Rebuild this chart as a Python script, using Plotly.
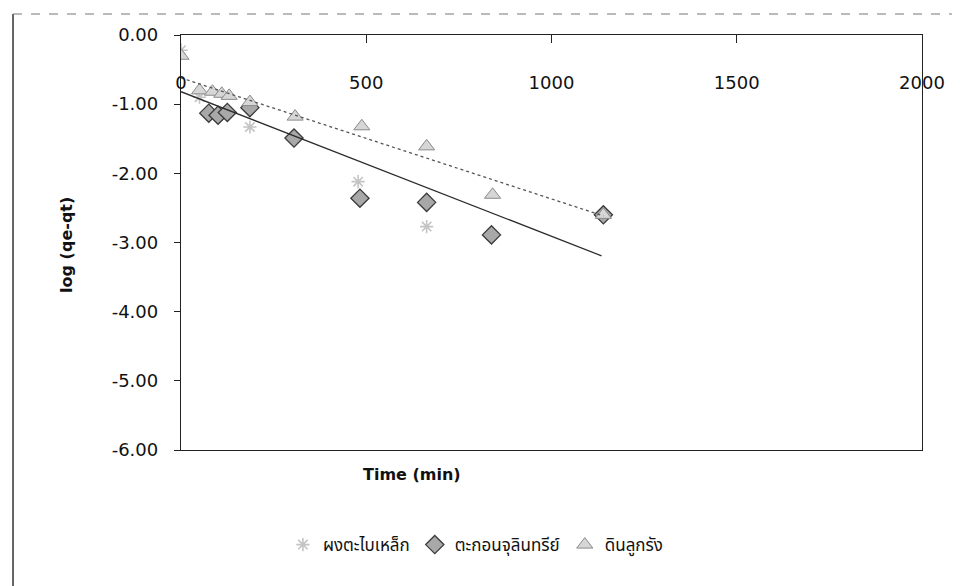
import plotly.graph_objects as go

# ---- data ----
series_names = ["ผงตะไบเหล็ก", "ตะกอนจุลินทรีย์", "ดินลูกรัง"]

iron_x = [0, 50, 186, 478, 663]
iron_y = [-0.22, -0.90, -1.33, -2.12, -2.77]

sludge_x = [75, 100, 125, 186, 305, 483, 663, 838, 1140]
sludge_y = [-1.13, -1.16, -1.12, -1.05, -1.49, -2.36, -2.42, -2.89, -2.60]

laterite_x = [0, 50, 85, 110, 130, 186, 308, 488, 663, 841, 1140]
laterite_y = [-0.30, -0.80, -0.82, -0.85, -0.88, -0.97, -1.18, -1.32, -1.61, -2.31, -2.60]

# linear trend lines: [slope, intercept, x_end]
sludge_trend = [-0.00209, -0.82, 1135]
laterite_trend = [-0.00175, -0.62, 1140]

x_ticks = [0, 500, 1000, 1500, 2000]
y_ticks = [0, -1, -2, -3, -4, -5, -6]

FONT = "DejaVu Sans"
THAI = "Noto Sans Thai, Loma, Garuda, Tahoma, sans-serif"

fig = go.Figure()

fig.add_trace(go.Scatter(
    x=iron_x, y=iron_y, mode="markers", name=series_names[0],
    marker=dict(symbol="asterisk-open", size=11, color="#c4c4c4",
                line=dict(color="#bdbdbd", width=1.6)),
))
fig.add_trace(go.Scatter(
    x=sludge_x, y=sludge_y, mode="markers", name=series_names[1],
    marker=dict(symbol="diamond", size=14, color="#a8a8a8",
                line=dict(color="#3a3a3a", width=1.3)),
))
fig.add_trace(go.Scatter(
    x=laterite_x, y=laterite_y, mode="markers", name=series_names[2],
    marker=dict(symbol="triangle-up", size=14, color="#d6d6d6",
                line=dict(color="#8a8a8a", width=1)),
))

for tr, dash, col in [(sludge_trend, "solid", "#2b2b2b"), (laterite_trend, "dot", "#555555")]:
    xs = [0, tr[2]]
    ys = [tr[1] + tr[0] * v for v in xs]
    fig.add_trace(go.Scatter(x=xs, y=ys, mode="lines", showlegend=False,
                             line=dict(color=col, width=1.3, dash=dash),
                             hoverinfo="skip"))

# invisible trace so the label-only axis is drawn
fig.add_trace(go.Scatter(x=[x_ticks[0], x_ticks[-1]], y=[None, None], xaxis="x2",
                         mode="markers", showlegend=False, hoverinfo="skip",
                         marker=dict(opacity=0)))

fig.update_layout(
    xaxis=dict(
        range=[0, 2000], tickvals=x_ticks, showticklabels=False,
        side="top", ticks="inside", ticklen=8, tickcolor="#222",
        showline=True, linecolor="#222", linewidth=1.3, mirror=True,
        showgrid=False, zeroline=False,
    ),
    xaxis2=dict(
        range=[0, 2000], tickvals=x_ticks, ticktext=[str(v) for v in x_ticks],
        overlaying="x", anchor="free", position=0.915, side="bottom",
        showline=False, ticks="", showgrid=False, zeroline=False,
        tickfont=dict(family=FONT, size=18, color="#111"),
    ),
    yaxis=dict(
        range=[-6, 0], tickvals=y_ticks, ticktext=[f"{v:.2f}" for v in y_ticks],
        ticks="outside", ticklen=6, tickcolor="#222", ticklabelstandoff=12,
        showline=True, linecolor="#222", linewidth=1.3, mirror=True,
        showgrid=False, zeroline=False,
        tickfont=dict(family=FONT, size=18, color="#111"),
    ),
    width=952, height=578,
    margin=dict(l=173, r=38, t=27, b=136),
    paper_bgcolor="white", plot_bgcolor="white",
    showlegend=True,
    legend=dict(orientation="h", x=0.398, y=-0.229, xanchor="center", yanchor="middle",
                font=dict(family=THAI, size=17, color="#111"),
                itemwidth=30, tracegroupgap=0),
    annotations=[
        dict(text="<b>Time (min)</b>", x=0.312, y=-0.058, xref="paper", yref="paper",
             showarrow=False, xanchor="center", yanchor="middle",
             font=dict(family=FONT, size=16, color="#111")),
        dict(text="<b>log (qe-qt)</b>", x=-0.154, y=0.494, xref="paper", yref="paper",
             showarrow=False, textangle=-90, xanchor="center", yanchor="middle",
             font=dict(family=FONT, size=16, color="#111")),
    ],
    shapes=[
        dict(type="line", xref="paper", yref="paper",
             x0=-0.2267, x1=-0.2267, y0=-0.34, y1=1.0506,
             line=dict(color="#333", width=1.5)),
        dict(type="line", xref="paper", yref="paper",
             x0=-0.2267, x1=1.0472, y0=1.0506, y1=1.0506,
             line=dict(color="#777", width=1.2, dash="dash")),
    ],
)

fig.write_html("out.html")
